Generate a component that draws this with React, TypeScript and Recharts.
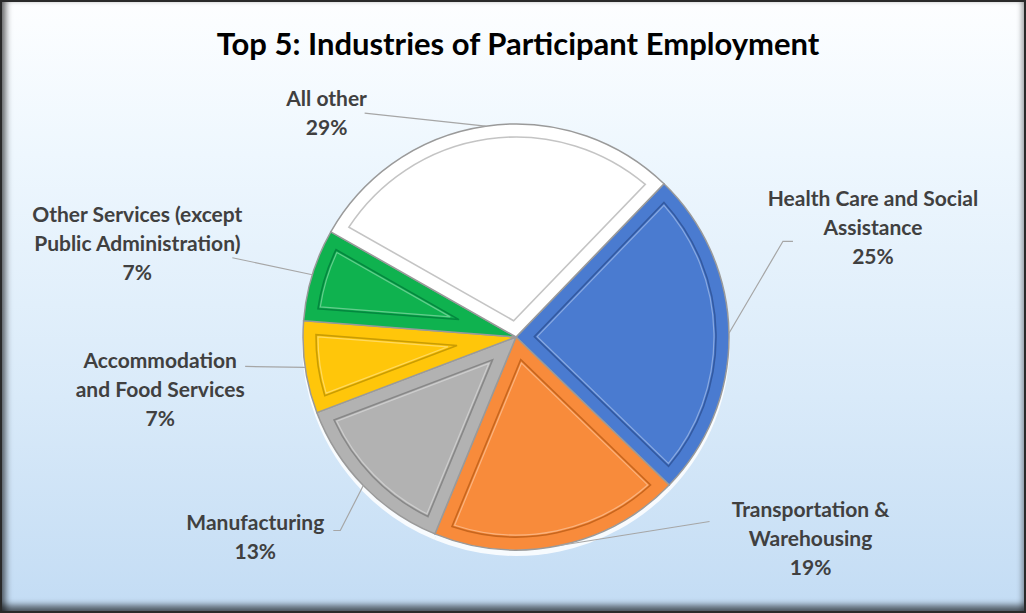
import React from 'react';
import { PieChart, Pie, Cell } from 'recharts';

// ---- data ----
const categories = [
  'Health Care and Social Assistance',
  'Transportation & Warehousing',
  'Manufacturing',
  'Accommodation and Food Services',
  'Other Services (except Public Administration)',
  'All other',
];
const shares = [25, 19, 13, 7, 7, 29];
const labelTexts = [
  ['Health Care and Social', 'Assistance'],
  ['Transportation &', 'Warehousing'],
  ['Manufacturing'],
  ['Accommodation', 'and Food Services'],
  ['Other Services (except', 'Public Administration)'],
  ['All other'],
];
const title = 'Top 5: Industries of Participant Employment';

// ---- styles ----
const fills = ['#4a7bd0', '#f88b3b', '#b2b2b2', '#ffc60a', '#0fb24f', '#ffffff'];
const shades = ['#2c4f92', '#b85a14', '#7a7a7a', '#b88f00', '#00793a', '#b0b0b0'];
// label layout: offsets from the slice's outer mid point: leader points and text centre
const leaderOffsets: number[][][] = [
  [[54, -92], [64, -92]],
  [[150, -24]],
  [[-23, 45], [-30, 45]],
  [[-60, -1]],
  [[-80, -17]],
  [[-121, -13]],
];
const textOffsets = [
  [144, -136],
  [251, -37],
  [-108, 36],
  [-145, -8],
  [-175, -61],
  [-159, -29],
];

const tableData = categories.map((name, i) => ({ name, value: shares[i] }));

const FONT = 'Lato, "Open Sans", sans-serif';
const RAD = Math.PI / 180;
const polar = (cx: number, cy: number, r: number, deg: number) => [
  cx + r * Math.cos(deg * RAD),
  cy - r * Math.sin(deg * RAD),
];

function bevelPath(cx: number, cy: number, r: number, s: number, e: number, inset: number) {
  const a0 = Math.min(s, e);
  const a1 = Math.max(s, e);
  const half = (a1 - a0) / 2;
  const mid = (a0 + a1) / 2;
  const apexDist = half < 90 ? inset / Math.sin(half * RAD) : inset;
  const [ax, ay] = polar(cx, cy, apexDist, mid);
  const rIn = r - inset;
  const d = Math.asin(inset / rIn) / RAD;
  const [p1x, p1y] = polar(cx, cy, rIn, a1 - d);
  const [p2x, p2y] = polar(cx, cy, rIn, a0 + d);
  const large = a1 - a0 - 2 * d > 180 ? 1 : 0;
  return `M${ax},${ay} L${p1x},${p1y} A${rIn},${rIn} 0 ${large} 1 ${p2x},${p2y} Z`;
}

const renderLabel = (props: any) => {
  const { cx, cy, outerRadius, startAngle, endAngle, midAngle, index, value } = props;
  const [axp, ayp] = polar(cx, cy, outerRadius, midAngle);
  const pts = [[axp, ayp], ...leaderOffsets[index].map(([dx, dy]) => [axp + dx, ayp + dy])];
  const [tx, ty] = [axp + textOffsets[index][0], ayp + textOffsets[index][1]];
  const lines = [...labelTexts[index], `${value}%`];
  return (
    <g key={`lbl-${index}`}>
      <path
        d={bevelPath(cx, cy, outerRadius, startAngle, endAngle, 13)}
        fill="none"
        stroke={shades[index]}
        strokeWidth={1.6}
        strokeOpacity={0.75}
      />
      <path
        d={bevelPath(cx, cy, outerRadius, startAngle, endAngle, 15)}
        fill="none"
        stroke="#ffffff"
        strokeWidth={1.2}
        strokeOpacity={0.35}
      />
      <polyline
        points={pts.map((p) => p.join(',')).join(' ')}
        fill="none"
        stroke="#a6a6a6"
        strokeWidth={1.2}
      />
      {lines.map((t, i) => (
        <text
          key={i}
          x={tx}
          y={ty + i * 29}
          textAnchor="middle"
          dominantBaseline="central"
          fontFamily={FONT}
          fontWeight={700}
          fontSize={21}
          fill="#404040"
        >
          {t}
        </text>
      ))}
    </g>
  );
};

export default function App() {
  return (
    <div
      style={{
        position: 'absolute',
        left: 0,
        top: 0,
        width: 1026,
        height: 613,
        boxSizing: 'border-box',
        border: '2px solid #2a2a2a',
        background: 'linear-gradient(to bottom, #fdfeff 0%, #eef7fe 25%, #d9eaf9 65%, #c3dcf4 100%)',
        boxShadow:
          'inset 7px 0 6px -3px rgba(0,0,0,0.55), inset 0 -9px 6px -3px rgba(0,0,0,0.55), inset -6px 0 5px -3px rgba(0,0,0,0.25)',
        overflow: 'hidden',
      }}
    >
      <div
        style={{
          position: 'absolute',
          left: 0,
          width: 1032,
          top: 22,
          textAlign: 'center',
          fontFamily: FONT,
          fontWeight: 700,
          fontSize: 31,
          color: '#000000',
        }}
      >
        {title}
      </div>
      <div style={{ position: 'absolute', left: -2, top: -2 }}>
        <PieChart width={1026} height={613} margin={{ top: 0, right: 0, bottom: 0, left: 0 }}>
          <Pie
            data={tableData}
            dataKey="value"
            nameKey="name"
            cx={516}
            cy={342}
            outerRadius={214}
            startAngle={46}
            endAngle={-314}
            fill="#ffffff"
            fillOpacity={0.85}
            stroke="none"
            isAnimationActive={false}
          />
          <Pie
            data={tableData}
            dataKey="value"
            nameKey="name"
            cx={516}
            cy={337}
            outerRadius={213}
            startAngle={46}
            endAngle={-314}
            stroke="#9a9a9a"
            strokeWidth={1.5}
            label={renderLabel}
            labelLine={false}
            isAnimationActive={false}
          >
            {tableData.map((d, i) => (
              <Cell key={d.name} fill={fills[i]} />
            ))}
          </Pie>
        </PieChart>
      </div>
    </div>
  );
}
